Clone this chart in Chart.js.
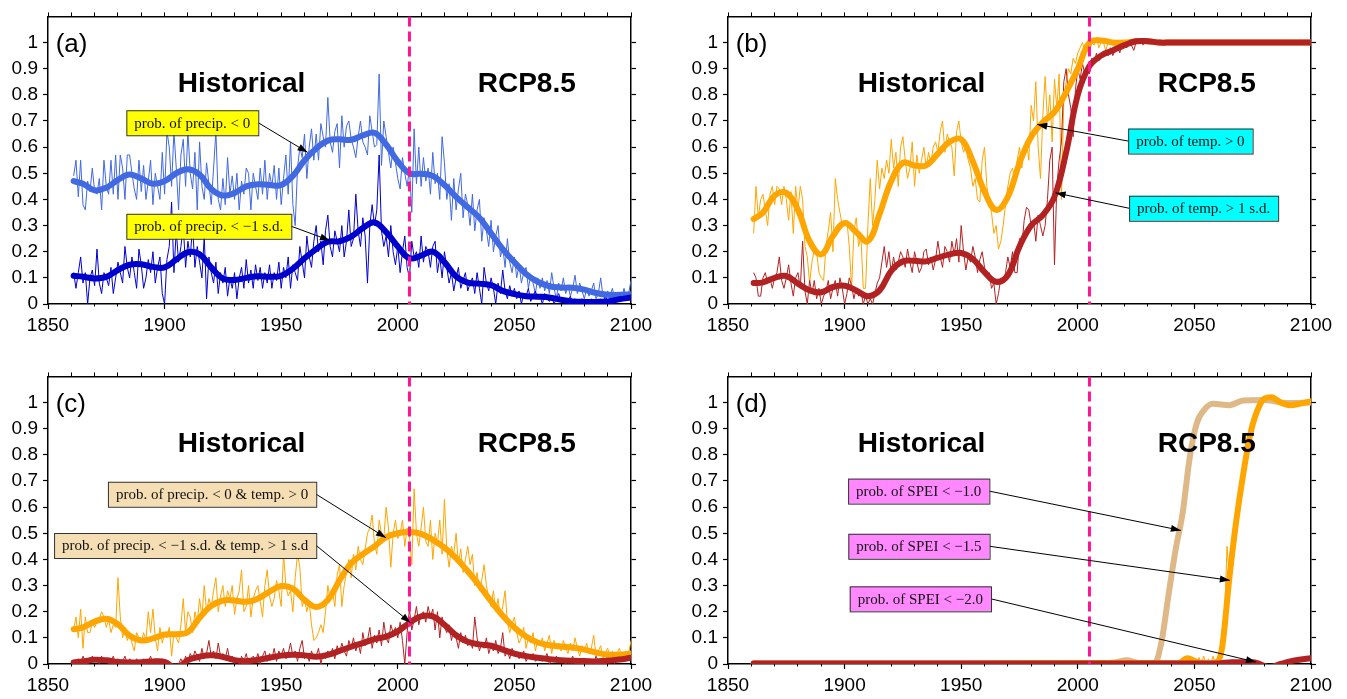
<!DOCTYPE html>
<html>
<head>
<meta charset="utf-8">
<title>Drought / heat probabilities</title>
<script src="https://cdn.jsdelivr.net/npm/chart.js@4.4.1/dist/chart.umd.min.js"></script>
<style>
  html, body { margin: 0; padding: 0; background: #fff; overflow: hidden; }
  #wrap { position: relative; width: 1347px; height: 699px; }
  canvas { position: absolute; }
</style>
</head>
<body>
<div id="wrap">
  <canvas id="panelA" width="660" height="340" style="left:0;top:0"></canvas>
  <canvas id="panelB" width="660" height="340" style="left:680px;top:0"></canvas>
  <canvas id="panelC" width="660" height="340" style="left:0;top:360px"></canvas>
  <canvas id="panelD" width="660" height="340" style="left:680px;top:360px"></canvas>
</div>
<script>
// === DATA ===
const THIN_START = 1861;   // tahunan, 1861..2100
const SCENARIO_YEAR = 2005;
const X_MIN = 1850, X_MAX = 2100;
const Y_MIN = 0, Y_MAX = 1.1;

// titik kurva halus (tiap 5 tahun)
const SMOOTH_YEARS = [1861,1865,1870,1875,1880,1885,1890,1895,1900,1905,
  1910,1915,1920,1925,1930,1935,1940,1945,1950,1955,
  1960,1965,1970,1975,1980,1985,1990,1995,2000,2005,
  2010,2015,2020,2025,2030,2035,2040,2045,2050,2055,
  2060,2065,2070,2075,2080,2085,2090,2095,2100];

// (a) prob. of precip. < 0  /  < -1 s.d.
const A_PRECIP0_SMOOTH = [0.47,0.46,0.435,0.445,0.475,0.495,0.48,0.46,0.47,0.5,
  0.515,0.495,0.44,0.415,0.425,0.45,0.458,0.455,0.455,0.49,
  0.55,0.595,0.625,0.63,0.628,0.645,0.655,0.61,0.545,0.5,
  0.498,0.49,0.455,0.41,0.37,0.33,0.27,0.21,0.16,0.115,
  0.085,0.068,0.063,0.062,0.055,0.042,0.035,0.035,0.037];
const A_PRECIP1_SMOOTH = [0.108,0.104,0.098,0.104,0.13,0.15,0.152,0.142,0.14,0.17,
  0.198,0.19,0.14,0.097,0.092,0.1,0.106,0.104,0.108,0.135,
  0.175,0.21,0.238,0.24,0.258,0.29,0.312,0.275,0.22,0.175,
  0.185,0.2,0.16,0.105,0.082,0.078,0.072,0.05,0.038,0.03,
  0.028,0.025,0.016,0.01,0.008,0.008,0.01,0.018,0.025];
const A_PRECIP0_ANNUAL = [
  0.49,0.55,0.41,0.55,0.38,0.36,0.47,0.43,0.52,0.43,
  0.42,0.48,0.36,0.55,0.45,0.42,0.55,0.42,0.57,0.40,
  0.57,0.52,0.40,0.57,0.57,0.50,0.44,0.40,0.55,0.43,
  0.53,0.40,0.47,0.55,0.38,0.50,0.45,0.40,0.58,0.42,
  0.66,0.60,0.45,0.66,0.52,0.36,0.57,0.63,0.45,0.66,
  0.50,0.44,0.58,0.36,0.62,0.45,0.40,0.54,0.46,0.38,
  0.52,0.66,0.40,0.36,0.48,0.38,0.56,0.42,0.49,0.40,
  0.50,0.36,0.47,0.42,0.52,0.50,0.36,0.50,0.45,0.40,
  0.52,0.42,0.55,0.40,0.50,0.45,0.53,0.40,0.52,0.38,
  0.48,0.57,0.42,0.62,0.38,0.30,0.52,0.60,0.56,0.65,
  0.48,0.60,0.67,0.55,0.65,0.55,0.69,0.64,0.60,0.79,
  0.62,0.58,0.66,0.69,0.52,0.72,0.60,0.68,0.70,0.63,
  0.60,0.56,0.64,0.70,0.62,0.60,0.57,0.72,0.66,0.60,
  0.61,0.88,0.53,0.70,0.64,0.58,0.52,0.60,0.54,0.48,
  0.44,0.56,0.50,0.45,0.52,0.35,0.67,0.46,0.60,0.45,
  0.56,0.47,0.52,0.42,0.58,0.46,0.50,0.40,0.64,0.54,
  0.40,0.46,0.32,0.48,0.36,0.44,0.50,0.33,0.42,0.38,
  0.30,0.42,0.28,0.36,0.40,0.24,0.33,0.28,0.22,0.32,
  0.20,0.26,0.30,0.18,0.22,0.14,0.25,0.16,0.12,0.18,
  0.10,0.15,0.08,0.12,0.14,0.06,0.11,0.08,0.04,0.10,
  0.06,0.10,0.05,0.09,0.04,0.12,0.06,0.02,0.08,0.05,
  0.10,0.04,0.07,0.03,0.06,0.11,0.04,0.08,0.05,0.02,
  0.06,0.03,0.05,0.08,0.02,0.04,0.10,0.03,0.02,0.05,
  0.03,0.06,0.02,0.04,0.03,0.02,0.06,0.02,0.04,0.09];
const A_PRECIP1_ANNUAL = [
  0.12,0.06,0.12,0.18,0.08,0.12,0.00,0.10,0.13,0.07,
  0.21,0.08,0.04,0.12,0.10,0.07,0.14,0.04,0.10,0.16,
  0.12,0.08,0.22,0.14,0.10,0.18,0.12,0.06,0.21,0.15,
  0.06,0.10,0.17,0.12,0.20,0.08,0.14,0.18,0.04,0.00,
  0.17,0.22,0.39,0.12,0.28,0.16,0.22,0.30,0.14,0.24,
  0.18,0.30,0.14,0.22,0.16,0.10,0.26,0.02,0.18,0.12,
  0.08,0.16,0.04,0.12,0.08,0.14,0.03,0.10,0.06,0.12,
  0.02,0.10,0.14,0.06,0.17,0.08,0.13,0.06,0.15,0.09,
  0.14,0.06,0.12,0.08,0.15,0.06,0.12,0.09,0.16,0.06,
  0.14,0.10,0.18,0.06,0.15,0.12,0.09,0.22,0.16,0.10,
  0.26,0.18,0.14,0.24,0.30,0.20,0.24,0.15,0.28,0.34,
  0.22,0.18,0.28,0.24,0.20,0.30,0.18,0.24,0.36,0.22,
  0.25,0.42,0.28,0.22,0.33,0.26,0.08,0.30,0.38,0.30,
  0.36,0.57,0.28,0.22,0.26,0.18,0.30,0.20,0.15,0.22,
  0.12,0.20,0.26,0.14,0.10,0.24,0.18,0.20,0.14,0.26,
  0.16,0.22,0.20,0.14,0.22,0.24,0.12,0.18,0.10,0.20,
  0.14,0.08,0.12,0.05,0.10,0.14,0.06,0.09,0.12,0.05,
  0.08,0.10,0.04,0.12,0.06,0.00,0.14,0.08,0.05,0.10,
  0.06,0.00,0.08,0.04,0.13,0.05,0.02,0.07,0.03,0.06,
  0.02,0.05,0.00,0.04,0.03,0.06,0.01,0.03,0.05,0.02,
  0.03,0.00,0.04,0.02,0.01,0.03,0.00,0.02,0.04,0.01,
  0.02,0.00,0.01,0.03,0.00,0.02,0.01,0.00,0.02,0.01,
  0.00,0.01,0.02,0.00,0.01,0.00,0.02,0.01,0.03,0.01,
  0.02,0.00,0.03,0.01,0.02,0.04,0.02,0.03,0.02,0.04];

// (b) prob. of temp. > 0  /  > 1 s.d.
const B_TEMP0_SMOOTH = [0.325,0.35,0.415,0.425,0.36,0.24,0.19,0.26,0.31,0.275,
  0.24,0.345,0.47,0.54,0.53,0.53,0.575,0.62,0.63,0.545,
  0.43,0.36,0.41,0.54,0.64,0.695,0.735,0.81,0.9,1.0,
  1.008,1.0,1.0,1.005,1.005,1.0,1.0,1.0,1.0,1.0,
  1.0,1.0,1.0,1.0,1.0,1.0,1.0,1.0,1.0];
const B_TEMP1_SMOOTH = [0.08,0.083,0.1,0.107,0.078,0.052,0.045,0.065,0.07,0.052,
  0.03,0.052,0.127,0.163,0.165,0.163,0.177,0.19,0.195,0.172,
  0.122,0.085,0.11,0.22,0.3,0.34,0.41,0.58,0.8,0.91,
  0.95,0.97,0.99,1.005,1.005,1.0,1.0,1.0,1.0,1.0,
  1.0,1.0,1.0,1.0,1.0,1.0,1.0,1.0,1.0];
const B_TEMP0_ANNUAL = [   // 1861..2030
  0.27,0.45,0.33,0.40,0.42,0.36,0.30,0.42,0.45,0.38,
  0.45,0.44,0.38,0.45,0.40,0.32,0.43,0.27,0.45,0.36,
  0.45,0.40,0.22,0.18,0.08,0.16,0.21,0.20,0.12,0.10,
  0.09,0.22,0.28,0.35,0.20,0.48,0.40,0.35,0.30,0.30,
  0.32,0.22,0.06,0.28,0.33,0.22,0.26,0.06,0.06,0.30,
  0.48,0.30,0.40,0.55,0.44,0.52,0.48,0.55,0.50,0.63,
  0.52,0.58,0.45,0.60,0.64,0.55,0.48,0.52,0.62,0.45,
  0.57,0.50,0.55,0.60,0.52,0.58,0.54,0.60,0.62,0.58,
  0.66,0.70,0.58,0.65,0.62,0.60,0.49,0.66,0.70,0.62,
  0.58,0.60,0.55,0.52,0.45,0.48,0.40,0.39,0.55,0.60,
  0.45,0.40,0.35,0.27,0.30,0.21,0.24,0.30,0.38,0.45,
  0.50,0.52,0.48,0.55,0.60,0.52,0.60,0.62,0.55,0.76,
  0.70,0.85,0.60,0.48,0.72,0.87,0.70,0.80,0.62,0.86,
  0.75,0.88,0.40,0.78,0.85,0.90,0.88,0.94,0.92,0.96,
  0.98,1.00,0.97,1.00,0.96,1.00,0.99,1.02,0.98,1.00,
  1.00,0.97,1.00,0.99,1.00,0.98,1.00,1.00,0.99,1.00,
  1.00,1.00,0.99,1.00,1.00,1.00,1.00,1.00,1.00,1.00];
const B_TEMP1_ANNUAL = [   // 1861..2030
  0.12,0.10,0.03,0.03,0.10,0.12,0.08,0.10,0.06,0.10,
  0.12,0.18,0.09,0.06,0.10,0.15,0.08,0.03,0.10,0.12,
  0.06,0.24,0.05,0.00,0.09,0.04,0.09,0.02,0.06,0.00,
  0.03,0.05,0.09,0.02,0.06,0.09,0.03,0.10,0.06,0.00,
  0.04,0.10,0.07,0.02,0.06,0.03,0.05,0.00,0.03,0.00,
  0.02,0.00,0.04,0.08,0.10,0.16,0.22,0.14,0.20,0.12,
  0.18,0.13,0.16,0.20,0.18,0.14,0.21,0.16,0.12,0.20,
  0.16,0.12,0.14,0.20,0.21,0.15,0.18,0.13,0.17,0.24,
  0.18,0.14,0.22,0.20,0.16,0.24,0.19,0.25,0.16,0.30,
  0.20,0.13,0.18,0.16,0.22,0.18,0.12,0.17,0.20,0.14,
  0.10,0.12,0.06,0.08,0.00,0.04,0.10,0.08,0.12,0.18,
  0.14,0.20,0.12,0.12,0.25,0.22,0.32,0.37,0.36,0.30,
  0.32,0.24,0.34,0.30,0.26,0.30,0.40,0.55,0.60,0.15,
  0.45,0.55,0.62,0.85,0.90,0.80,0.75,0.64,0.82,0.90,
  0.86,0.92,0.88,0.90,0.88,0.94,0.92,0.96,0.93,0.95,
  0.96,0.97,0.95,0.98,0.95,0.97,0.99,0.96,1.00,1.00,
  0.98,1.00,0.99,0.97,1.00,1.00,1.01,0.99,1.00,1.00];

// (c) gabungan precip & temp
const C_COMB0_SMOOTH = [0.133,0.14,0.162,0.173,0.152,0.108,0.09,0.098,0.113,0.114,
  0.122,0.177,0.222,0.243,0.243,0.238,0.25,0.277,0.298,0.288,
  0.245,0.218,0.245,0.32,0.385,0.42,0.45,0.485,0.5,0.505,
  0.498,0.475,0.445,0.405,0.355,0.3,0.24,0.185,0.14,0.105,
  0.082,0.072,0.067,0.063,0.055,0.044,0.036,0.036,0.04];
const C_COMB1_SMOOTH = [0.006,0.01,0.016,0.014,0.008,0.006,0.007,0.01,0.008,-0.015,
  0.015,0.028,0.033,0.027,0.015,0.011,0.016,0.024,0.032,0.035,
  0.033,0.028,0.035,0.05,0.066,0.08,0.095,0.105,0.125,0.158,
  0.182,0.182,0.15,0.11,0.085,0.075,0.07,0.055,0.04,0.03,
  0.024,0.018,0.014,0.012,0.011,0.01,0.012,0.017,0.024];
const C_COMB0_ANNUAL = [
  0.13,0.18,0.10,0.21,0.06,0.18,0.12,0.12,0.16,0.14,
  0.16,0.17,0.20,0.18,0.14,0.17,0.12,0.15,0.14,0.33,
  0.18,0.10,0.14,0.09,0.12,0.08,0.05,0.12,0.10,0.08,
  0.12,0.09,0.20,0.12,0.21,0.10,0.05,0.14,0.08,0.12,
  0.10,0.14,0.03,0.12,0.10,0.08,0.15,0.25,0.12,0.20,
  0.18,0.12,0.20,0.16,0.25,0.18,0.30,0.20,0.25,0.22,
  0.28,0.33,0.20,0.26,0.30,0.22,0.28,0.25,0.30,0.19,
  0.25,0.28,0.36,0.20,0.22,0.30,0.18,0.25,0.28,0.30,
  0.24,0.18,0.30,0.36,0.26,0.22,0.25,0.32,0.28,0.22,
  0.42,0.30,0.26,0.28,0.20,0.33,0.42,0.37,0.22,0.25,
  0.20,0.24,0.15,0.09,0.10,0.12,0.15,0.12,0.20,0.30,
  0.25,0.28,0.22,0.34,0.38,0.22,0.30,0.35,0.40,0.33,
  0.42,0.36,0.45,0.40,0.38,0.44,0.50,0.52,0.57,0.46,
  0.42,0.55,0.50,0.48,0.60,0.52,0.37,0.50,0.55,0.48,
  0.50,0.55,0.45,0.52,0.49,0.38,0.67,0.50,0.45,0.52,
  0.60,0.47,0.45,0.55,0.40,0.50,0.46,0.55,0.42,0.63,
  0.44,0.37,0.45,0.42,0.50,0.38,0.44,0.35,0.40,0.45,
  0.38,0.42,0.30,0.35,0.28,0.32,0.38,0.30,0.25,0.22,
  0.28,0.20,0.25,0.18,0.22,0.28,0.16,0.12,0.15,0.18,
  0.12,0.08,0.10,0.14,0.06,0.10,0.08,0.12,0.05,0.09,
  0.07,0.10,0.05,0.08,0.11,0.04,0.09,0.06,0.08,0.05,
  0.09,0.06,0.04,0.08,0.05,0.10,0.06,0.03,0.07,0.05,
  0.08,0.04,0.06,0.11,0.03,0.05,0.07,0.02,0.04,0.06,
  0.03,0.05,0.02,0.04,0.06,0.03,0.02,0.05,0.04,0.09];
const C_COMB1_ANNUAL = [
  0.01,0.00,0.02,0.00,0.03,0.01,0.00,0.02,0.03,0.01,
  0.02,0.00,0.03,0.01,0.02,0.00,0.01,0.03,0.00,0.02,
  0.00,0.01,0.03,0.00,0.02,0.01,0.00,0.02,0.00,0.01,
  0.02,0.00,0.01,0.03,0.00,0.02,0.01,0.00,0.02,0.00,
  0.01,0.00,0.00,0.00,0.00,0.00,0.02,0.00,0.03,0.01,
  0.04,0.02,0.05,0.03,0.01,0.06,0.02,0.04,0.09,0.03,
  0.05,0.02,0.08,0.03,0.04,0.02,0.06,0.01,0.03,0.00,
  0.02,0.00,0.03,0.01,0.04,0.00,0.02,0.03,0.01,0.04,
  0.00,0.03,0.05,0.01,0.04,0.02,0.06,0.01,0.05,0.03,
  0.06,0.02,0.04,0.08,0.03,0.05,0.01,0.06,0.09,0.02,
  0.04,0.01,0.05,0.02,0.03,0.06,0.00,0.04,0.02,0.05,
  0.03,0.06,0.02,0.07,0.04,0.08,0.05,0.03,0.09,0.06,
  0.10,0.05,0.08,0.04,0.12,0.07,0.09,0.14,0.06,0.11,
  0.08,0.13,0.07,0.16,0.10,0.08,0.15,0.12,0.14,0.10,
  0.16,0.09,0.00,0.12,0.21,0.13,0.17,0.22,0.15,0.19,
  0.20,0.16,0.22,0.18,0.21,0.13,0.20,0.10,0.18,0.14,
  0.12,0.15,0.09,0.13,0.10,0.06,0.12,0.08,0.11,0.07,
  0.09,0.06,0.18,0.10,0.05,0.08,0.06,0.10,0.04,0.07,
  0.05,0.09,0.04,0.06,0.12,0.03,0.05,0.02,0.06,0.03,
  0.04,0.02,0.03,0.05,0.01,0.03,0.02,0.04,0.01,0.02,
  0.03,0.01,0.02,0.04,0.00,0.02,0.01,0.03,0.01,0.02,
  0.01,0.00,0.02,0.01,0.03,0.00,0.01,0.02,0.00,0.01,
  0.00,0.02,0.01,0.00,0.03,0.01,0.00,0.02,0.01,0.03,
  0.01,0.02,0.00,0.03,0.01,0.02,0.04,0.02,0.03,0.03];

// (d) SPEI, kurva halus dengan tahun sendiri
const D_SPEI10_YEARS = [1861,1950,2010,2016,2021,2026,2033,2036,2039,2042,2045,2048,2051,2054,2058,2065,2071,2080,2090,2100];
const D_SPEI10 = [0.002,0.002,0.003,0.006,0.014,0.004,0.003,0.09,0.27,0.44,0.58,0.79,0.92,0.97,0.995,0.99,1.008,1.01,0.998,1.0];
const D_SPEI15_YEARS = [1861,1950,2020,2043,2047,2051,2056,2060,2062,2065,2068,2071,2074,2077,2080,2083,2087,2091,2095,2100];
const D_SPEI15 = [0.002,0.002,0.004,0.003,0.022,0.008,0.002,0.01,0.07,0.33,0.55,0.73,0.88,0.97,1.015,1.02,1.0,0.99,0.995,1.005];
const D_SPEI20_YEARS = [1861,1950,2000,2050,2060,2066,2075,2078,2082,2087,2092,2100];
const D_SPEI20 = [0.002,0.002,0.002,0.002,0.002,0.007,0.007,0.0,-0.012,0.0,0.012,0.022];
// nilai tahunan SPEI < -1.5 yang terlihat (2045..2080)
const D_SPEI15_ANNUAL_START = 2045;
const D_SPEI15_ANNUAL = [
  0.00,0.02,0.00,0.03,0.00,0.02,0.00,0.025,0.00,0.03,
  0.00,0.02,0.00,0.03,0.00,0.02,0.06,0.12,0.20,0.45,
  0.32,0.45,0.52,0.58,0.66,0.70,0.75,0.85,0.82,0.92,
  0.90,0.96,0.98,1.00,1.01,1.02];

// label kotak: posisi dalam koordinat data (tahun, prob)
const NOTES_A = [
  { text: 'prob. of precip. < 0', bg: '#ffff00', x: 1883.6, y: 0.741, tx: 1961.3, ty: 0.58 },
  { text: 'prob. of precip. < \u22121 s.d.', bg: '#ffff00', x: 1883.6, y: 0.345, tx: 1970.9, ty: 0.243 }
];
const NOTES_B = [
  { text: 'prob. of temp. > 0', bg: '#00ffff', x: 2021.6, y: 0.671, tx: 1982.6, ty: 0.687 },
  { text: 'prob. of temp. > 1 s.d.', bg: '#00ffff', x: 2022.0, y: 0.414, tx: 1990.5, ty: 0.425 }
];
const NOTES_C = [
  { text: 'prob. of precip. < 0 & temp. > 0', bg: '#f5deb3', x: 1875.7, y: 0.697, tx: 1994.9, ty: 0.483 },
  { text: 'prob. of precip. < \u22121 s.d. & temp. > 1 s.d', bg: '#f5deb3', x: 1852.6, y: 0.501, tx: 2005.5, ty: 0.158 }
];
const NOTES_D = [
  { text: 'prob. of SPEI < \u22121.0', bg: '#ff88ff', x: 1901.5, y: 0.709, tx: 2044.2, ty: 0.511 },
  { text: 'prob. of SPEI < \u22121.5', bg: '#ff88ff', x: 1901.6, y: 0.498, tx: 2065.2, ty: 0.32 },
  { text: 'prob. of SPEI < \u22122.0', bg: '#ff88ff', x: 1902.2, y: 0.297, tx: 2076.4, ty: 0.0075 }
];

// === WARNA ===
const C_LIGHTBLUE = '#4169e1';
const C_DARKBLUE = '#0000cd';
const C_ORANGE = '#ffa500';
const C_RED = '#b22222';
const C_TAN = '#deb887';
const C_PINK = '#ff1493';

const SANS = '"Liberation Sans", Arial, Helvetica, sans-serif';
const SERIF = '"Liberation Serif", "Times New Roman", serif';

// === HELPER DATASET ===
function annualLine(values, color, order, start) {
  const y0 = start || THIN_START;
  return {
    data: values.map((v, i) => ({ x: y0 + i, y: v })),
    borderColor: color, borderWidth: 1, tension: 0,
    pointRadius: 0, order: order
  };
}
function smoothLine(years, values, color, order, monotone) {
  const ds = {
    data: values.map((v, i) => ({ x: years[i], y: v })),
    borderColor: color, borderWidth: 6,
    borderCapStyle: 'round', borderJoinStyle: 'round',
    pointRadius: 0, order: order
  };
  if (monotone) ds.cubicInterpolationMode = 'monotone';
  else ds.tension = 0.4;
  return ds;
}
function scenarioLine() {
  return {
    data: [{ x: SCENARIO_YEAR, y: Y_MAX }, { x: SCENARIO_YEAR, y: Y_MIN }],
    borderColor: C_PINK, borderWidth: 3, borderDash: [10, 5],
    pointRadius: 0, order: -1
  };
}

function drawArrow(ctx, x1, y1, x2, y2) {
  ctx.beginPath();
  ctx.moveTo(x1, y1);
  ctx.lineTo(x2, y2);
  ctx.stroke();
  const a = Math.atan2(y2 - y1, x2 - x1);
  const len = 10, half = 3.5;
  ctx.beginPath();
  ctx.moveTo(x2, y2);
  ctx.lineTo(x2 - len * Math.cos(a) + half * Math.sin(a), y2 - len * Math.sin(a) - half * Math.cos(a));
  ctx.lineTo(x2 - len * Math.cos(a) - half * Math.sin(a), y2 - len * Math.sin(a) + half * Math.cos(a));
  ctx.closePath();
  ctx.fill();
}

// teks panel, judul periode, kotak label + panah
const overlayPlugin = {
  id: 'overlay',
  afterDatasetsDraw(chart, args, opts) {
    const ctx = chart.ctx;
    const xs = chart.scales.x, ys = chart.scales.y;
    ctx.save();
    ctx.fillStyle = '#000';
    ctx.textBaseline = 'alphabetic';

    ctx.font = '26px ' + SANS;
    ctx.textAlign = 'left';
    ctx.fillText(opts.label, xs.getPixelForValue(1853.3), ys.getPixelForValue(0.965));

    ctx.font = 'bold 28px ' + SANS;
    ctx.textAlign = 'center';
    ctx.fillText('Historical', xs.getPixelForValue(1933), ys.getPixelForValue(0.81));
    ctx.fillText('RCP8.5', xs.getPixelForValue(2055.3), ys.getPixelForValue(0.81));

    ctx.font = '15px ' + SERIF;
    ctx.textAlign = 'left';
    ctx.textBaseline = 'middle';
    opts.notes.forEach(n => {
      const left = xs.getPixelForValue(n.x);
      const top = ys.getPixelForValue(n.y);
      const w = ctx.measureText(n.text).width + 16;
      const h = 25;
      const tx = xs.getPixelForValue(n.tx), ty = ys.getPixelForValue(n.ty);
      const sx = tx > left + w ? left + w : left;
      ctx.strokeStyle = '#000';
      ctx.fillStyle = '#000';
      ctx.lineWidth = 1;
      drawArrow(ctx, sx, top + h / 2, tx, ty);
      ctx.fillStyle = n.bg;
      ctx.fillRect(left, top, w, h);
      ctx.strokeStyle = '#333';
      ctx.strokeRect(left + 0.5, top + 0.5, w, h);
      ctx.fillStyle = '#111';
      ctx.fillText(n.text, left + 8, top + h / 2 + 1);
    });
    ctx.restore();
  }
};

function axisScales() {
  const tickFont = { family: SANS, size: 19 };
  const hideTop = c => (c.tick && c.tick.value > 1.05) ? 'rgba(0,0,0,0)' : '#000';
  return {
    x: {
      type: 'linear', position: 'bottom', min: X_MIN, max: X_MAX, weight: 1,
      ticks: { stepSize: 50, font: tickFont, color: '#000', padding: 5, maxRotation: 0, autoSkip: false,
               callback: v => String(v) },
      grid: { drawOnChartArea: false, tickLength: 5, color: '#000', tickWidth: 1.2 },
      border: { display: true, color: '#000', width: 1.5 },
      afterFit: s => { s.height = 36; }
    },
    xMinor: {
      type: 'linear', position: 'bottom', min: X_MIN, max: X_MAX, weight: 0,
      ticks: { display: false, stepSize: 10 },
      grid: { drawOnChartArea: false, tickLength: 2.5, color: '#000', tickWidth: 1 },
      border: { display: false },
      afterFit: s => { s.height = 0; }
    },
    xTop: {
      type: 'linear', position: 'top', min: X_MIN, max: X_MAX,
      ticks: { display: false, stepSize: 10 },
      grid: { drawOnChartArea: false, tickLength: 4, color: '#000', tickWidth: 1 },
      border: { display: true, color: '#000', width: 1.5 },
      afterFit: s => { s.height = 12; }
    },
    y: {
      type: 'linear', position: 'left', min: Y_MIN, max: Y_MAX,
      ticks: { stepSize: 0.1, font: tickFont, color: '#000', padding: 5,
               callback: v => v > 1.05 ? '' : String(Math.round(v * 10) / 10) },
      grid: { drawOnChartArea: false, tickLength: 5, tickColor: hideTop, tickWidth: 1.2 },
      border: { display: true, color: '#000', width: 1.5 },
      afterFit: s => { s.width = 48; }
    },
    yRight: {
      type: 'linear', position: 'right', min: Y_MIN, max: Y_MAX,
      ticks: { display: false, stepSize: 0.1 },
      grid: { drawOnChartArea: false, tickLength: 5, tickColor: hideTop, tickWidth: 1.2 },
      border: { display: true, color: '#000', width: 1.5 },
      afterFit: s => { s.width = 29; }
    }
  };
}

function buildPanel(canvasId, label, datasets, notes) {
  const ctx = document.getElementById(canvasId).getContext('2d');
  return new Chart(ctx, {
    type: 'line',
    data: { datasets: datasets },
    options: {
      responsive: false,
      animation: false,
      devicePixelRatio: 1,
      events: [],
      layout: { padding: 0 },
      plugins: {
        legend: { display: false },
        tooltip: { enabled: false },
        overlay: { label: label, notes: notes }
      },
      scales: axisScales()
    },
    plugins: [overlayPlugin]
  });
}

// === RENDER ===
buildPanel('panelA', '(a)', [
  annualLine(A_PRECIP0_ANNUAL, C_LIGHTBLUE, 4),
  annualLine(A_PRECIP1_ANNUAL, C_DARKBLUE, 3),
  smoothLine(SMOOTH_YEARS, A_PRECIP0_SMOOTH, C_LIGHTBLUE, 2),
  smoothLine(SMOOTH_YEARS, A_PRECIP1_SMOOTH, C_DARKBLUE, 1),
  scenarioLine()
], NOTES_A);

buildPanel('panelB', '(b)', [
  annualLine(B_TEMP0_ANNUAL, C_ORANGE, 4),
  annualLine(B_TEMP1_ANNUAL, C_RED, 3),
  smoothLine(SMOOTH_YEARS, B_TEMP0_SMOOTH, C_ORANGE, 2),
  smoothLine(SMOOTH_YEARS, B_TEMP1_SMOOTH, C_RED, 1),
  scenarioLine()
], NOTES_B);

buildPanel('panelC', '(c)', [
  annualLine(C_COMB0_ANNUAL, C_ORANGE, 4),
  annualLine(C_COMB1_ANNUAL, C_RED, 3),
  smoothLine(SMOOTH_YEARS, C_COMB0_SMOOTH, C_ORANGE, 2),
  smoothLine(SMOOTH_YEARS, C_COMB1_SMOOTH, C_RED, 1),
  scenarioLine()
], NOTES_C);

buildPanel('panelD', '(d)', [
  smoothLine(D_SPEI10_YEARS, D_SPEI10, C_TAN, 4, true),
  smoothLine(D_SPEI15_YEARS, D_SPEI15, C_ORANGE, 3, true),
  annualLine(D_SPEI15_ANNUAL, C_ORANGE, 2, D_SPEI15_ANNUAL_START),
  smoothLine(D_SPEI20_YEARS, D_SPEI20, C_RED, 1, true),
  scenarioLine()
], NOTES_D);
</script>
</body>
</html>
